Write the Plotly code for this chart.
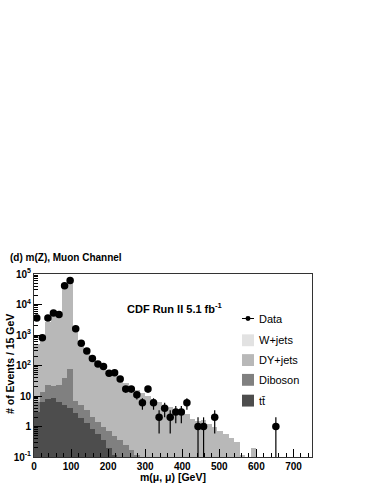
import numpy as np
import plotly.graph_objects as go

# ---------------- data (15 GeV bins, 0-750 GeV) ----------------
bin_width = 15
n_bins = 50

data_counts = [3600, 820, 3600, 5300, 4700, 41000, 61000, 1600, 540, 300,
               170, 112, 93, 56, 58, 36, 17, 17, 11, 6,
               17, 6, 2, 4, 2, 3, 3, 6, 0, 1,
               1, 0, 2, 0, 0, 0, 0, 0, 0, 0,
               0, 0, 0, 1, 0, 0, 0, 0, 0, 0]

ttbar = [2.9, 6.5, 8.0, 8.5, 6.5, 5.0, 4.0, 2.8, 1.9, 1.3,
         0.85, 0.55, 0.35, 0.2, 0.12, 0.08, 0.05, 0.03, 0.02, 0,
         0, 0, 0, 0, 0, 0, 0, 0, 0, 0,
         0, 0, 0, 0, 0, 0, 0, 0, 0, 0,
         0, 0, 0, 0, 0, 0, 0, 0, 0, 0]

diboson = [3.7, 7.5, 15, 13.5, 16.5, 35, 71, 3.9, 3.0, 2.05,
           1.15, 0.85, 0.6, 0.5, 0.38, 0.27, 0.2, 0.14, 0.1, 0.07,
           0.05, 0.04, 0.03, 0.02, 0.02, 0, 0, 0, 0, 0,
           0, 0, 0, 0, 0, 0, 0, 0, 0, 0,
           0, 0, 0, 0, 0, 0, 0, 0, 0, 0]

dy_jets = [493, 786, 2677, 4978, 4777, 33960, 59925, 1493, 595, 317,
           188, 124, 87, 63, 47.5, 35.6, 26.7, 20.8, 15.9, 12.4,
           9.9, 8.0, 6.3, 5.2, 4.3, 3.6, 3.0, 2.5, 1.8, 1.55,
           1.6, 1.2, 1.0, 0.7, 0.55, 0.42, 0.32, 0.12, 0, 0.2,
           0, 0, 0, 0, 0, 0, 0, 0, 0, 0]

w_jets = [0] * n_bins

y_tickvals = [0.1, 1, 10, 100, 1000, 10000, 100000]
y_ticktext = ["10<sup>-1</sup>", "1", "10", "10<sup>2</sup>", "10<sup>3</sup>",
              "10<sup>4</sup>", "10<sup>5</sup>"]
x_tickvals = [0, 100, 200, 300, 400, 500, 600, 700]

legend_labels = ["Data", "W+jets", "DY+jets", "Diboson", "tt\u0304"]

# ---------------- styling ----------------
C_TT = "#4d4d4d"
C_DB = "#808080"
C_DY = "#b8b8b8"
C_W = "#e2e2e2"
FONT = "Liberation Sans"

centers = (np.arange(n_bins) + 0.5) * bin_width

fig = go.Figure()
for vals, col, name in [(ttbar, C_TT, "tt"), (diboson, C_DB, "Diboson"),
                        (dy_jets, C_DY, "DY+jets"), (w_jets, C_W, "W+jets")]:
    fig.add_trace(go.Bar(x=centers, y=vals, width=bin_width, marker=dict(color=col, line=dict(width=0)),
                         name=name, showlegend=False))

d = np.array(data_counts, dtype=float)
mask = d > 0
err_up = np.sqrt(d[mask])
err_dn = np.minimum(np.sqrt(d[mask]), d[mask] * 0.96)
fig.add_trace(go.Scatter(x=centers[mask], y=d[mask], mode="markers",
                         marker=dict(color="black", size=7.5),
                         error_y=dict(type="data", symmetric=False, array=err_up, arrayminus=err_dn,
                                      color="black", thickness=1.2, width=0),
                         showlegend=False, name="Data"))

# plot area in pixels: x 34..312, y 274..459
L, R, T, B = 34, 312, 274, 459
W, H = R - L, B - T
def px(x): return (x - L) / W
def py(y): return (B - y) / H

def ann(x, y, text, size, xanchor="left", angle=0):
    return dict(x=x, y=y, xref="paper", yref="paper", text=text, showarrow=False,
                xanchor=xanchor, yanchor="middle", textangle=angle,
                font=dict(size=size, family=FONT, color="black"))

annotations = [
    ann(px(8), py(257), "<b>(d) m(Z), Muon Channel</b>", 10),
    ann(px(125), py(308), "<b>CDF Run II 5.1 fb<sup>-1</sup></b>", 11),
    ann(px(10), py(365), "<b># of Events / 15 GeV</b>", 10.5, xanchor="center", angle=-90),
    ann(0.5, py(479), "<b>m(\u03bc, \u03bc) [GeV]</b>", 10.5, xanchor="center"),
]

shapes = []
leg_y = [319, 341, 361, 381, 402]
leg_cols = [None, C_W, C_DY, C_DB, C_TT]
for lab, yy, col in zip(legend_labels, leg_y, leg_cols):
    if col is None:
        shapes.append(dict(type="line", xref="paper", yref="paper", x0=px(242), x1=px(254),
                           y0=py(yy), y1=py(yy), line=dict(color="black", width=1)))
        shapes.append(dict(type="circle", xref="paper", yref="paper", x0=px(245.5), x1=px(250.5),
                           y0=py(yy + 2.5), y1=py(yy - 2.5), fillcolor="black", line=dict(width=0)))
    else:
        shapes.append(dict(type="rect", xref="paper", yref="paper", x0=px(242), x1=px(254),
                           y0=py(yy + 6), y1=py(yy - 6), fillcolor=col, line=dict(width=0)))
    annotations.append(ann(px(257), py(yy), lab, 11))

fig.update_layout(
    width=374, height=484,
    margin=dict(l=L, r=374 - R, t=T, b=484 - B),
    paper_bgcolor="white", plot_bgcolor="white",
    barmode="stack", bargap=0,
    annotations=annotations, shapes=shapes,
    showlegend=False,
)
fig.update_xaxes(range=[0, 750], tickvals=x_tickvals, ticks="inside", ticklen=8, tickwidth=1,
                 tickcolor="black", showline=True, linecolor="#333", linewidth=1, mirror=True,
                 showgrid=False, zeroline=False,
                 minor=dict(ticks="inside", ticklen=4, dtick=20, tickcolor="black", showgrid=False),
                 tickfont=dict(size=10, family=FONT, color="black", weight="bold"))
fig.update_yaxes(type="log", range=[-1, 5], tickvals=y_tickvals, ticktext=y_ticktext,
                 ticks="inside", ticklen=8, tickwidth=1, tickcolor="black",
                 showline=True, linecolor="#333", linewidth=1, mirror=True,
                 showgrid=False, zeroline=False,
                 minor=dict(ticks="inside", ticklen=4, dtick="D1", tickcolor="black", showgrid=False),
                 tickfont=dict(size=10, family=FONT, color="black", weight="bold"))

fig.write_html("out.html", config={"displayModeBar": False},
               post_script="document.body.style.margin='0px';")
